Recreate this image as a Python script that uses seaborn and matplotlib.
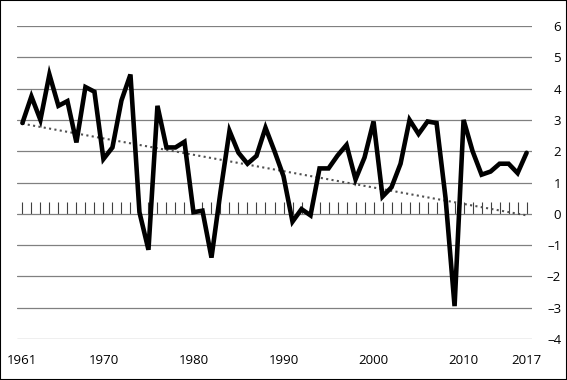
import matplotlib
matplotlib.use("Agg")
import matplotlib.pyplot as plt
import seaborn as sns
import numpy as np
import pandas as pd
from matplotlib.patches import Rectangle

years = list(range(1961, 2018))
values = [2.9, 3.75, 3.0, 4.45, 3.45, 3.6, 2.28, 4.05, 3.9, 1.75,
          2.12, 3.62, 4.45, 0.05, -1.15, 3.45, 2.12, 2.12, 2.3, 0.05,
          0.1, -1.4, 0.7, 2.65, 1.95, 1.6, 1.85, 2.75, 2.0, 1.2,
          -0.25, 0.15, -0.05, 1.45, 1.45, 1.86, 2.2, 1.1, 1.8, 2.95,
          0.55, 0.85, 1.6, 3.0, 2.55, 2.95, 2.9, 0.5, -2.95, 3.0,
          2.0, 1.25, 1.35, 1.6, 1.6, 1.3, 1.95]
trend_years = [1961, 2017]
trend_values = [2.88, -0.05]
x_labels = [1961, 1970, 1980, 1990, 2000, 2010, 2017]
y_ticks = [-4, -3, -2, -1, 0, 1, 2, 3, 4, 5, 6]

df = pd.DataFrame({"year": years, "value": values})
df_trend = pd.DataFrame({"year": trend_years, "value": trend_values})

sns.set_theme(style="white")
plt.rcParams["font.family"] = ["Open Sans", "DejaVu Sans"]

fig = plt.figure(figsize=(5.67, 3.80), dpi=100)
ax = fig.add_axes([17/567, 1-339/380, (532-17)/567, (339-26)/380])

grid_color = "#808080"
for yv in y_ticks:
    ax.axhline(yv, color=grid_color, lw=0.9, zorder=1)

# trend line
sns.lineplot(data=df_trend, x="year", y="value", ax=ax, color="#505050",
             lw=1.5, linestyle=(0, (1, 1.6)), zorder=2)

sns.lineplot(data=df, x="year", y="value", ax=ax, color="black", lw=3.3,
             zorder=3, solid_joinstyle="miter")

ax.set_xlim(1960.4, 2017.6)
ax.set_ylim(-4, 6)
ax.set_xlabel("")
ax.set_ylabel("")

for s in ax.spines.values():
    s.set_visible(False)

ax.set_yticks(y_ticks)
ax.set_yticklabels([("\u2013" + str(abs(v))) if v < 0 else str(v) for v in y_ticks],
                   ha="right")
ax.tick_params(axis="y", left=False, right=False, labelleft=False,
               labelright=True, pad=15, labelsize=9.5, colors="black")

ax.set_xticks(x_labels)
ax.set_xticklabels([str(v) for v in x_labels])
ax.tick_params(axis="x", bottom=False, top=False, pad=5, labelsize=9.5,
               colors="black")

# category tick marks along the zero line
sec = ax.secondary_xaxis(0.4)
sec.set_xticks(years)
sec.set_xticklabels([])
sec.tick_params(axis="x", direction="in", length=8.5, width=0.8,
                color="#404040")
for k in ("bottom", "top", "left", "right"):
    if k in sec.spines:
        sec.spines[k].set_visible(False)

fig.patches.append(Rectangle((0, 0), 1, 1, transform=fig.transFigure,
                             fill=False, edgecolor="black", lw=1.5))

fig.savefig("out.png", dpi=100)
